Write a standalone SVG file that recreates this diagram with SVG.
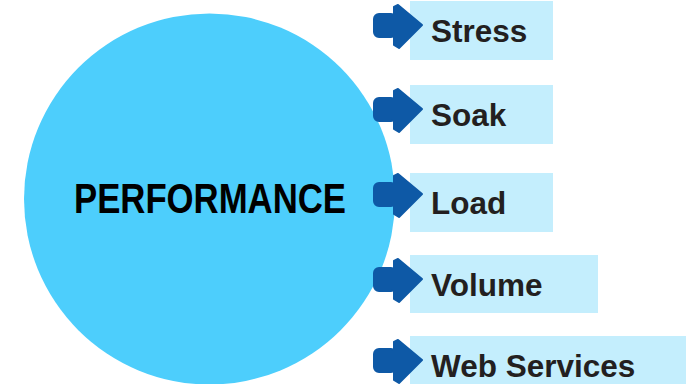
<svg xmlns="http://www.w3.org/2000/svg" width="686" height="384" viewBox="0 0 686 384">
<style>
.box{fill:#C4EEFD}
.lbl{font-family:"Liberation Sans",Arial,sans-serif;font-weight:bold;font-size:31.5px;fill:#231F20}
.arr{fill:#0E59A6;stroke:#0E59A6;stroke-width:2;stroke-linejoin:round}
</style>
<defs>
<g id="arrow">
<rect x="374" y="-12" width="22" height="23" rx="5"/>
<path d="M394,-19 L398,-21 L422,-1 L399,22 L394,19 Z"/>
</g>
</defs>
<g id="performance">
<circle cx="209.5" cy="199" r="185.5" fill="#4DCEFC"/>
<text x="210" y="213" text-anchor="middle" font-family="'Liberation Sans',Arial,sans-serif" font-weight="bold" font-size="42" textLength="272" lengthAdjust="spacingAndGlyphs" fill="#000">PERFORMANCE</text>
</g>
<g id="stress">
<rect class="box" x="410" y="1" width="143" height="59"/>
<text class="lbl" x="431" y="42">Stress</text>
</g>
<g id="soak">
<rect class="box" x="410" y="85" width="143" height="59"/>
<text class="lbl" x="431" y="126">Soak</text>
</g>
<g id="load">
<rect class="box" x="410" y="173" width="143" height="59"/>
<text class="lbl" x="431" y="214">Load</text>
</g>
<g id="volume">
<rect class="box" x="410" y="255" width="188" height="58"/>
<text class="lbl" x="431" y="296">Volume</text>
</g>
<g id="webservices">
<rect class="box" x="410" y="336" width="276" height="59"/>
<text class="lbl" x="431" y="377">Web Services</text>
</g>
<g id="connectors" class="arr">
<use href="#arrow" transform="translate(0,26)"/>
<use href="#arrow" transform="translate(0,110)"/>
<use href="#arrow" transform="translate(0,195)"/>
<use href="#arrow" transform="translate(0,280)"/>
<use href="#arrow" transform="translate(0,361)"/>
</g>
</svg>
